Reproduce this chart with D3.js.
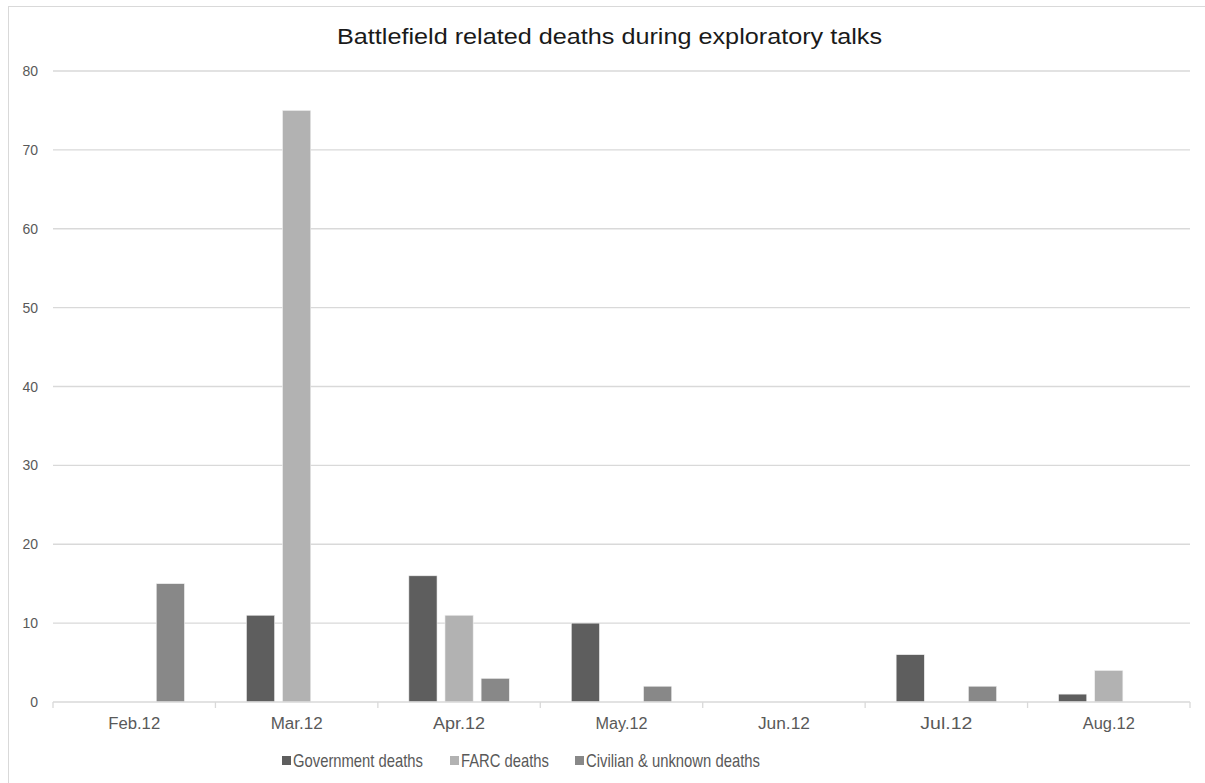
<!DOCTYPE html>
<html><head><meta charset="utf-8">
<script src="https://cdn.jsdelivr.net/npm/d3@7"></script>
<style>body{margin:0;background:#fff}svg{display:block;font-family:"Liberation Sans",Arial,sans-serif}</style>
</head><body><svg id="c" width="1205" height="783"></svg>
<script>
const categories=["Feb.12","Mar.12","Apr.12","May.12","Jun.12","Jul.12","Aug.12"];
const seriesNames=["Government deaths","FARC deaths","Civilian & unknown deaths"];
const government=[0,11,16,10,0,6,1];
const farc=[0,75,11,0,0,0,4];
const civilian=[15,0,3,2,0,2,0];
const yTicks=[0,10,20,30,40,50,60,70,80];
const colors=["#5e5e5e","#b2b2b2","#888888"];
const series=[government,farc,civilian];

const svg=d3.select("#c");
svg.append("rect").attr("x",8.5).attr("y",6.5).attr("width",1205).attr("height",800).attr("fill","#fff").attr("stroke","#d9d9d9");
const L=53,R=1190,T=71,B=702;
const x=d3.scaleBand().domain(categories).range([L,R]).paddingInner(0).paddingOuter(0);
const bw=x.bandwidth();
const x1=d3.scaleBand().domain(d3.range(3)).range([31,bw-31]).paddingInner(0.22).paddingOuter(0);
const y=d3.scaleLinear().domain([0,80]).range([B,T]);

svg.append("text").attr("x",337).attr("y",44).attr("font-size",22).attr("fill","#1a1a1a")
  .attr("textLength",545).attr("lengthAdjust","spacingAndGlyphs").text("Battlefield related deaths during exploratory talks");

const grid=svg.append("g");
yTicks.forEach(t=>{
  if(t>0) grid.append("line").attr("x1",L).attr("x2",R).attr("y1",y(t)).attr("y2",y(t)).attr("stroke","#d9d9d9").attr("stroke-width",1.3);
  svg.append("text").attr("x",38).attr("y",y(t)+5).attr("text-anchor","end").attr("font-size",14).attr("fill","#595959").text(t);
});

const gb=svg.append("g");
categories.forEach((c,i)=>{
  series.forEach((s,j)=>{
    const v=s[i]; if(!v) return;
    gb.append("rect").attr("x",x(c)+x1(j)).attr("width",x1.bandwidth()).attr("y",y(v)).attr("height",y(0)-y(v)).attr("fill",colors[j]).attr("stroke","#f0f0f0").attr("stroke-width",0.6);
  });
});

const ax=svg.append("g").attr("transform",`translate(0,${B})`);
ax.append("line").attr("x1",L).attr("x2",R).attr("stroke","#d9d9d9").attr("stroke-width",1.3);
d3.range(categories.length+1).forEach(i=>{
  const px=L+i*bw;
  ax.append("line").attr("x1",px).attr("x2",px).attr("y1",0).attr("y2",6).attr("stroke","#d9d9d9").attr("stroke-width",1.3);
});
categories.forEach(c=>{
  svg.append("text").attr("x",x(c)+bw/2-26).attr("y",729).attr("font-size",16).attr("fill","#595959")
    .attr("textLength",52).attr("lengthAdjust","spacingAndGlyphs").text(c);
});

const lg=svg.append("g");
const lx=[282,450,575];
const lt=[[293,130],[461,88],[586,174]];
seriesNames.forEach((n,j)=>{
  lg.append("rect").attr("x",lx[j]).attr("y",756).attr("width",9).attr("height",9).attr("fill",colors[j]);
  lg.append("text").attr("x",lt[j][0]).attr("y",767).attr("font-size",19).attr("fill","#595959")
    .attr("textLength",lt[j][1]).attr("lengthAdjust","spacingAndGlyphs").text(n);
});
</script></body></html>
